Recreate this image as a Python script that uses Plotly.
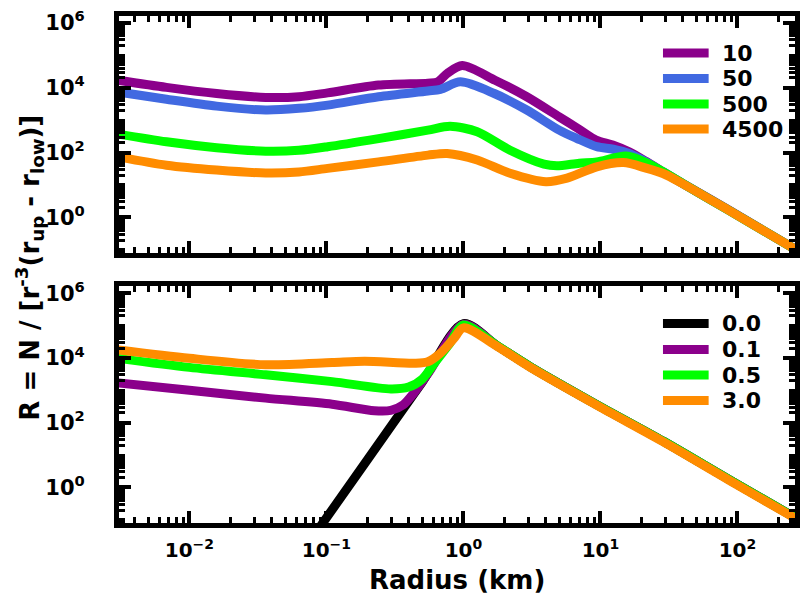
import plotly.graph_objects as go

FONT = "DejaVu Sans"

# ---------------- top panel data (Radius km, R) ----------------
top_names = ["10", "50", "500", "4500"]
top_colors = ["#8B008B", "#4169E1", "#00FF00", "#FF8C00"]

top_10_x = [0.003, 0.0068, 0.0158, 0.036, 0.063, 0.102, 0.24, 0.55, 0.65, 0.766, 0.98,
            1.7, 2.9, 5.0, 6.8, 9.3, 12.3, 16.2, 21.4, 28.8, 40, 87, 263]
top_10_y = [17000, 10200, 6600, 5000, 5250, 6900, 12000, 13800, 15100, 28000, 48000,
            17000, 5250, 1260, 562, 240, 170, 105, 54, 25.1, 11.0, 1.66, 0.105]

top_50_x = [0.003, 0.0068, 0.0158, 0.036, 0.063, 0.102, 0.24, 0.55, 0.68, 0.95,
            1.68, 2.9, 5.0, 6.7, 9.4, 12.4, 16.2, 21.5, 28.6, 40, 86, 263]
top_50_y = [7400, 4400, 2700, 2040, 2300, 2900, 5250, 7900, 8900, 15100,
            6600, 2040, 490, 275, 151, 126, 93, 51, 25.1, 11.0, 1.66, 0.105]

top_500_x = [0.003, 0.0068, 0.0158, 0.036, 0.063, 0.102, 0.24, 0.55, 0.80, 1.26,
             2.19, 3.87, 4.8, 7.0, 9.4, 15.4, 21.5, 28.6, 40, 86, 263]
top_500_y = [372, 214, 141, 110, 117, 151, 269, 490, 646, 437,
             117, 43.6, 38.9, 46.8, 51.3, 77.6, 49, 25.5, 11.0, 1.66, 0.105]

top_4500_x = [0.003, 0.0068, 0.0158, 0.036, 0.063, 0.102, 0.24, 0.55, 0.76, 1.26,
              2.19, 4.0, 5.7, 9.4, 14.7, 21.5, 28.6, 40, 86, 263]
top_4500_y = [74, 40.7, 28.8, 23.4, 25.1, 32.4, 51.3, 83.2, 93.3, 58.9,
              22.9, 12.6, 16.2, 36.3, 49, 33, 22.5, 10.8, 1.66, 0.105]

# ---------------- bottom panel data ----------------
bot_names = ["0.0", "0.1", "0.5", "3.0"]
bot_colors = ["#000000", "#8B008B", "#00FF00", "#FF8C00"]

bot_00_x = [0.08, 0.2, 0.5, 1.0, 1.76, 3.1, 9.3, 29, 87, 263]
bot_00_y = [0.030, 7.4, 1800, 115000, 24000, 5250, 370, 26.3, 1.74, 0.117]

bot_01_x = [0.003, 0.01, 0.036, 0.11, 0.224, 0.295, 0.363, 0.437, 0.562, 1.0,
            1.76, 3.1, 9.3, 29, 87, 263]
bot_01_y = [1700, 1000, 575, 372, 234, 240, 355, 851, 3715, 110000,
            24000, 5250, 370, 26.3, 1.74, 0.117]

bot_05_x = [0.003, 0.01, 0.036, 0.11, 0.295, 0.398, 0.501, 0.617, 0.794, 1.0,
            1.76, 3.1, 9.3, 29, 87, 263]
bot_05_y = [9800, 5130, 3020, 1860, 1100, 1260, 2240, 7080, 28200, 105000,
            24000, 5250, 370, 26.3, 1.74, 0.117]

bot_30_x = [0.003, 0.01, 0.036, 0.11, 0.19, 0.437, 0.55, 0.676, 0.851, 1.0,
            1.76, 3.1, 9.3, 29, 87, 263]
bot_30_y = [17800, 9800, 6170, 7240, 7940, 6900, 7600, 13800, 39800, 85100,
            22900, 5010, 355, 25.1, 1.66, 0.112]

# ticks
x_tickvals = [0.01, 0.1, 1, 10, 100]
x_ticktext = ["10<sup>\u22122</sup>", "10<sup>\u22121</sup>", "10<sup>0</sup>", "10<sup>1</sup>", "10<sup>2</sup>"]
y_tickvals = [1, 100, 1e4, 1e6]
y_ticktext = ["10<sup>0</sup>", "10<sup>2</sup>", "10<sup>4</sup>", "10<sup>6</sup>"]
x_minor = [k * 10.0 ** n for n in range(-3, 3) for k in range(2, 10)]
y_minor = [k * 10.0 ** n for n in range(-2, 7) for k in range(1, 10)]

top_series = [(top_10_x, top_10_y), (top_50_x, top_50_y), (top_500_x, top_500_y), (top_4500_x, top_4500_y)]
bot_series = [(bot_00_x, bot_00_y), (bot_01_x, bot_01_y), (bot_05_x, bot_05_y), (bot_30_x, bot_30_y)]

fig = go.Figure()
for (xs, ys), name, col in zip(top_series, top_names, top_colors):
    fig.add_trace(go.Scatter(x=xs, y=ys, mode="lines", name=name, showlegend=False,
                             line=dict(color=col, width=9, shape="spline", smoothing=0.8),
                             xaxis="x", yaxis="y"))
for (xs, ys), name, col in zip(bot_series, bot_names, bot_colors):
    fig.add_trace(go.Scatter(x=xs, y=ys, mode="lines", name=name, showlegend=False,
                             line=dict(color=col, width=9, shape="spline", smoothing=0.8),
                             xaxis="x2", yaxis="y2"))


def ax_common(size):
    return dict(type="log", showline=True, linewidth=5, linecolor="black", mirror="allticks",
                ticks="inside", ticklen=12, tickwidth=4, tickcolor="black",
                showgrid=False, zeroline=False,
                tickfont=dict(family=FONT, size=size, color="black", weight="bold"))


xa = ax_common(20)
xa.update(range=[-2.514, 2.420], tickmode="array", tickvals=x_tickvals, ticktext=x_ticktext,
          minor=dict(tickmode="array", tickvals=x_minor, ticks="inside", ticklen=6, tickwidth=3,
                     tickcolor="black", showgrid=False), ticklabelstandoff=5)
ya = ax_common(21)
ya.update(range=[-1.1, 6.21], tickmode="array", tickvals=y_tickvals, ticktext=y_ticktext,
          minor=dict(tickmode="array", tickvals=y_minor, ticks="inside", ticklen=6, tickwidth=3,
                     tickcolor="black", showgrid=False), ticklabelstandoff=25)

top_dom = [0.5325, 1.0]
bot_dom = [0.0, 0.4665]

# plot area in pixels (for placing legend keys)
L, R, T, B = 119, 800, 16, 523


def px_x(p):
    return (p - L) / (R - L)


def px_y(p):
    return (B - p) / (B - T)


legend_font = dict(family=FONT, size=22, color="black", weight="bold")
top_rows = [53, 78.5, 104, 129]
bot_rows = [323.5, 349.5, 375, 400.5]

shapes = []
annotations = []
for rows, names, cols in ((top_rows, top_names, top_colors), (bot_rows, bot_names, bot_colors)):
    for py, name, col in zip(rows, names, cols):
        shapes.append(dict(type="line", xref="paper", yref="paper",
                           x0=px_x(667), x1=px_x(713), y0=px_y(py), y1=px_y(py),
                           line=dict(color=col, width=9)))
        annotations.append(dict(text=name, xref="paper", yref="paper", x=px_x(724), y=px_y(py),
                                xanchor="left", yanchor="middle", showarrow=False, font=legend_font))

annotations += [
    dict(text="R = N / [r<sup>-3</sup>(r<sub>up</sub> - r<sub>low</sub>)]", xref="paper", yref="paper",
         x=px_x(28), y=px_y(268), xanchor="center", yanchor="middle", textangle=-90, showarrow=False,
         font=dict(family=FONT, size=26, color="black", weight="bold")),
    dict(text="Radius (km)", xref="paper", yref="paper", x=px_x(459.5), y=px_y(580),
         xanchor="center", yanchor="middle", showarrow=False,
         font=dict(family=FONT, size=26, color="black", weight="bold")),
]

fig.update_layout(
    width=801, height=595,
    margin=dict(l=L, r=801 - R, t=T, b=595 - B),
    paper_bgcolor="white", plot_bgcolor="white",
    xaxis=dict(xa, anchor="y", domain=[0, 1], showticklabels=False),
    yaxis=dict(ya, anchor="x", domain=top_dom),
    xaxis2=dict(xa, anchor="y2", domain=[0, 1]),
    yaxis2=dict(ya, anchor="x2", domain=bot_dom),
    shapes=shapes,
    annotations=annotations,
)

fig.write_html("out.html")
